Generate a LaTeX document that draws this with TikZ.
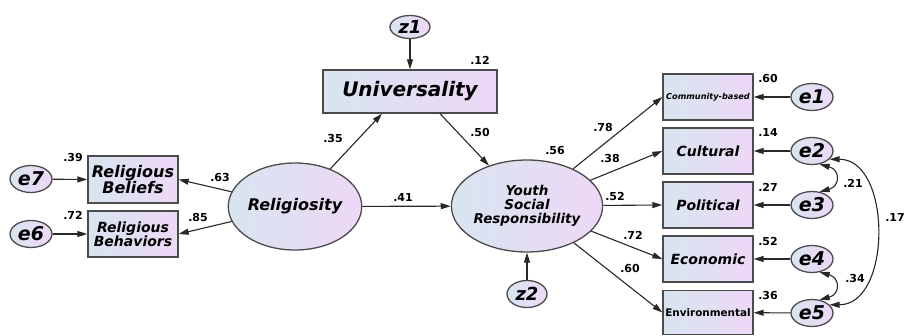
\documentclass[tikz,border=0pt]{standalone}
\usepackage{fontspec}
\setmainfont{DejaVu Sans}
\usetikzlibrary{arrows.meta,shapes.geometric}
\definecolor{shL}{RGB}{216,229,240}
\definecolor{shR}{RGB}{238,216,247}
\definecolor{bdLine}{RGB}{75,75,75}
\definecolor{arLine}{RGB}{40,40,40}
\newcommand{\fsz}[2]{\fontsize{#1}{#2}\selectfont}

\begin{document}
\begin{tikzpicture}[x=1pt,y=1pt,>={Triangle[length=10pt,width=6pt]},
  obs/.style ={draw=bdLine,line width=1.3pt,rectangle,left color=shL,right color=shR,align=center,inner sep=1pt,minimum width=90pt,minimum height=46pt,font=\fsz{14}{14}\bfseries\itshape},
  lat/.style ={draw=bdLine,line width=1.3pt,ellipse,left color=shL,right color=shR,align=center,inner sep=0pt,font=\fsz{16}{16}\bfseries\itshape},
  err/.style ={draw=bdLine,line width=1.3pt,ellipse,left color=shL,right color=shR,inner sep=0pt,minimum width=42pt,minimum height=27pt,font=\fsz{19}{19}\bfseries\itshape},
  wt/.style  ={inner sep=0pt,font=\fsz{11}{11}\bfseries},
  path/.style={->,line width=1.1pt,draw=arLine},
  cov/.style ={<->,line width=1.1pt,draw=arLine}]
\useasboundingbox (0,0) rectangle (905,-335);
% latent variables
\node[lat,minimum width=114pt,minimum height=87pt] (relig) at (295,-206.5) {Religiosity};
\node[lat,minimum width=119pt,minimum height=92pt,font=\fsz{13.5}{14}\bfseries\itshape] (ysr) at (527,-206) {Youth\\Social\\Responsibility};
\node[obs,minimum width=174pt,minimum height=43pt,font=\fsz{20}{20}\bfseries\itshape] (univ) at (410,-91.5) {Universality};
% left indicators
\node[obs,minimum height=47pt,font=\fsz{16}{16}\bfseries\itshape] (belf) at (133,-179.5) {Religious\\Beliefs};
\node[obs] (behv) at (133,-234) {Religious\\Behaviors};
\node[err] (e7) at (31,-179) {e7};
\node[err] (e6) at (31,-234) {e6};
% right indicators
\node[obs,font=\fsz{8.2}{8.2}\bfseries\itshape] (comm) at (708,-97) {Community-based};
\node[obs] (cult) at (708,-151) {Cultural};
\node[obs] (polt) at (708,-205) {Political};
\node[obs] (econ) at (708,-259) {Economic};
\node[obs,minimum height=44pt,font=\fsz{10.4}{10.4}\bfseries] (envr) at (708,-312.5) {Environmental};
\node[err] (e1) at (812,-97) {e1};
\node[err] (e2) at (812,-151) {e2};
\node[err] (e3) at (812,-205) {e3};
\node[err] (e4) at (812,-259) {e4};
\node[err] (e5) at (812,-313) {e5};
% disturbances
\node[err,minimum width=40pt,minimum height=23pt,font=\fsz{18}{18}\bfseries\itshape] (z1) at (410,-27) {z1};
\node[err,minimum width=40pt,minimum height=27pt,font=\fsz{18}{18}\bfseries\itshape] (z2) at (527,-294) {z2};
% structural paths
\draw[path] (z1) -- (univ);
\draw[path] (relig) -- ([xshift=-28pt]univ.south);
\draw[path] ([xshift=30pt]univ.south) -- (ysr);
\draw[path] (relig) -- (ysr);
\draw[path] (z2) -- (ysr);
\draw[path] (relig) -- (belf.east);
\draw[path] (relig) -- (behv.east);
\draw[path] (e7) -- (belf.west);
\draw[path] (e6) -- (behv.west);
\draw[path] (ysr) -- (comm.west);
\draw[path] (ysr) -- (cult.west);
\draw[path] (ysr) -- (polt.west);
\draw[path] (ysr) -- (econ.west);
\draw[path] (ysr) -- (envr.west);
\draw[path] (e1) -- (comm);
\draw[path] (e2) -- (cult);
\draw[path] (e3) -- (polt);
\draw[path] (e4) -- (econ);
\draw[path] (e5) -- (envr);
% covariances
\draw[cov] (e2.-60) to[out=-15,in=15,looseness=2] (e3.60);
\draw[cov] (e4.-60) to[out=-15,in=15,looseness=2] (e5.60);
\draw[cov] (e2.-25) to[out=0,in=0,looseness=1.1] (e5.25);
% estimates
\node[wt] (r12) at (480,-60) {.12};
\node[wt] (p35) at (333,-138) {.35};
\node[wt] (p50) at (480,-132) {.50};
\node[wt] (r56) at (555,-150) {.56};
\node[wt] (p41) at (403,-197) {.41};
\node[wt] (r39) at (73,-157) {.39};
\node[wt] (r72) at (73,-215) {.72};
\node[wt] (p63) at (220,-177) {.63};
\node[wt] (p85) at (198,-217) {.85};
\node[wt] (p78) at (603,-127) {.78};
\node[wt] (p38) at (610,-158) {.38};
\node[wt] (p52) at (615,-196) {.52};
\node[wt] (p72) at (633,-235) {.72};
\node[wt] (p60) at (630,-268) {.60};
\node[wt] (r60) at (768,-78) {.60};
\node[wt] (r14) at (768,-132) {.14};
\node[wt] (r27) at (768,-187) {.27};
\node[wt] (r52) at (768,-241) {.52};
\node[wt] (r36) at (768,-295) {.36};
\node[wt] (c21) at (853,-183) {.21};
\node[wt] (c34) at (855,-278) {.34};
\node[wt] (c17) at (895,-217) {.17};
\end{tikzpicture}
\end{document}
